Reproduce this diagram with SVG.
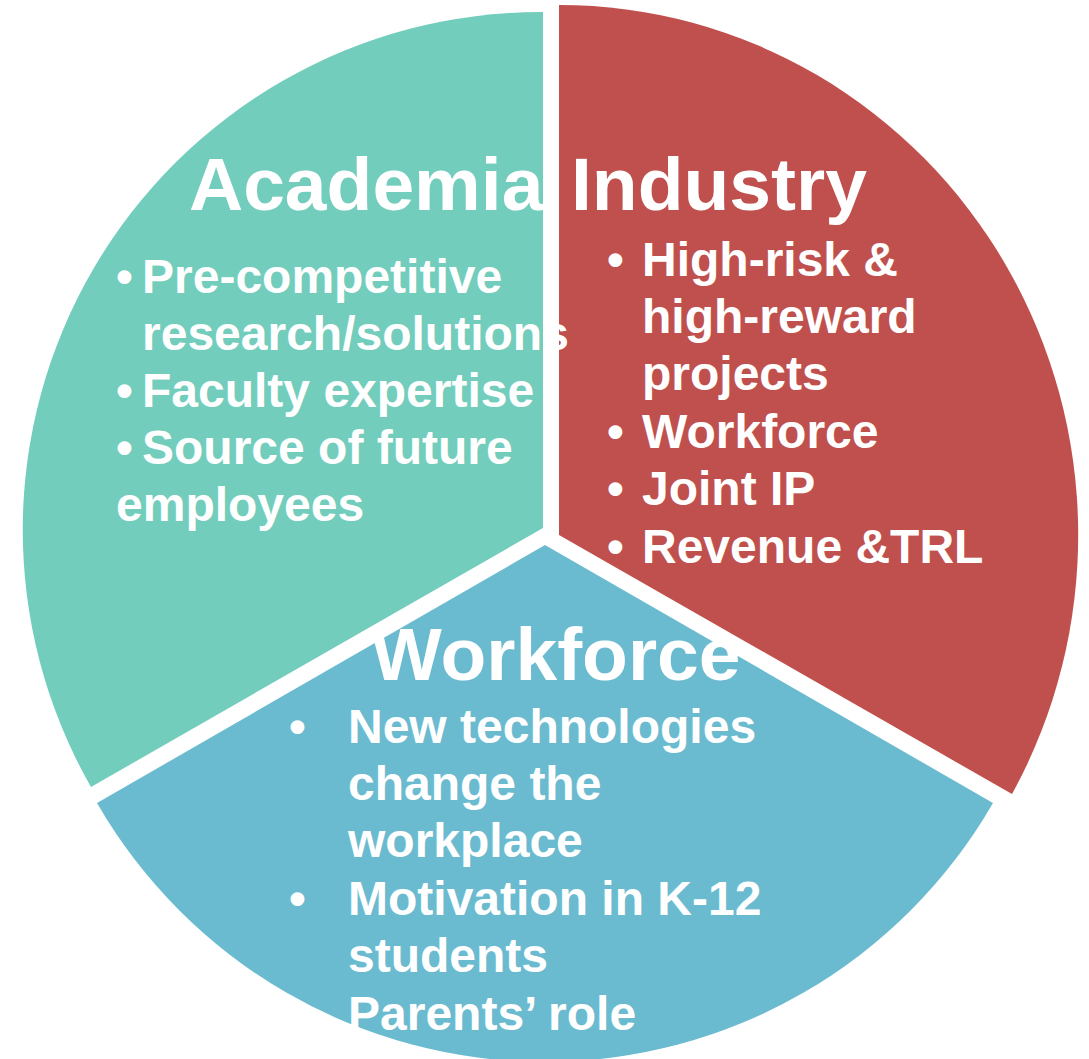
<svg xmlns="http://www.w3.org/2000/svg" width="1089" height="1059" viewBox="0 0 1089 1059">
  <style>
    .title { font-family: "Liberation Sans", Arial, sans-serif; font-weight: bold; font-size: 75px; fill: #ffffff; }
    .item { font-family: "Liberation Sans", Arial, sans-serif; font-weight: bold; font-size: 48px; fill: #ffffff; }
  </style>
  <rect width="1089" height="1059" fill="#ffffff"/>

  <!-- Academia sector: top to lower-left, pulled out toward upper-left -->
  <g id="academia">
    <path d="M543,528 L543,12 A518,518 0 0 0 91,787 Z" fill="#72CDBD"/>
  </g>

  <!-- Industry sector: top to lower-right -->
  <g id="industry">
    <path d="M559,535 L559,5 A519,530 0 0 1 1012,794 Z" fill="#C0504D"/>
  </g>

  <!-- Workforce sector: bottom -->
  <g id="workforce">
    <path d="M545,545 L993,803 A517,517 0 0 1 97,803 Z" fill="#6BBBD0"/>
  </g>

  <!-- Labels sit above all sectors -->
  <g id="academia-text">
    <text class="title" x="189" y="210">Academia</text>
    <text class="item" x="116" y="293">•</text>
    <text class="item" x="142" y="293">Pre-competitive</text>
    <text class="item" x="142" y="350">research/solutions</text>
    <text class="item" x="116" y="407">•</text>
    <text class="item" x="142" y="407">Faculty expertise</text>
    <text class="item" x="116" y="464">•</text>
    <text class="item" x="142" y="464">Source of future</text>
    <text class="item" x="116" y="521">employees</text>
  </g>

  <g id="industry-text">
    <text class="title" x="571" y="210">Industry</text>
    <text class="item" x="607" y="276">•</text>
    <text class="item" x="642" y="276">High-risk &amp;</text>
    <text class="item" x="642" y="333">high-reward</text>
    <text class="item" x="642" y="390">projects</text>
    <text class="item" x="607" y="448">•</text>
    <text class="item" x="642" y="448">Workforce</text>
    <text class="item" x="607" y="505">•</text>
    <text class="item" x="642" y="505">Joint IP</text>
    <text class="item" x="607" y="563">•</text>
    <text class="item" x="642" y="563">Revenue &amp;TRL</text>
  </g>

  <g id="workforce-text">
    <text class="title" x="371" y="680">Workforce</text>
    <text class="item" x="289" y="743">•</text>
    <text class="item" x="348" y="743">New technologies</text>
    <text class="item" x="348" y="800">change the</text>
    <text class="item" x="348" y="857">workplace</text>
    <text class="item" x="289" y="915">•</text>
    <text class="item" x="348" y="915">Motivation in K-12</text>
    <text class="item" x="348" y="972">students</text>
    <text class="item" x="348" y="1030">Parents’ role</text>
  </g>
</svg>
